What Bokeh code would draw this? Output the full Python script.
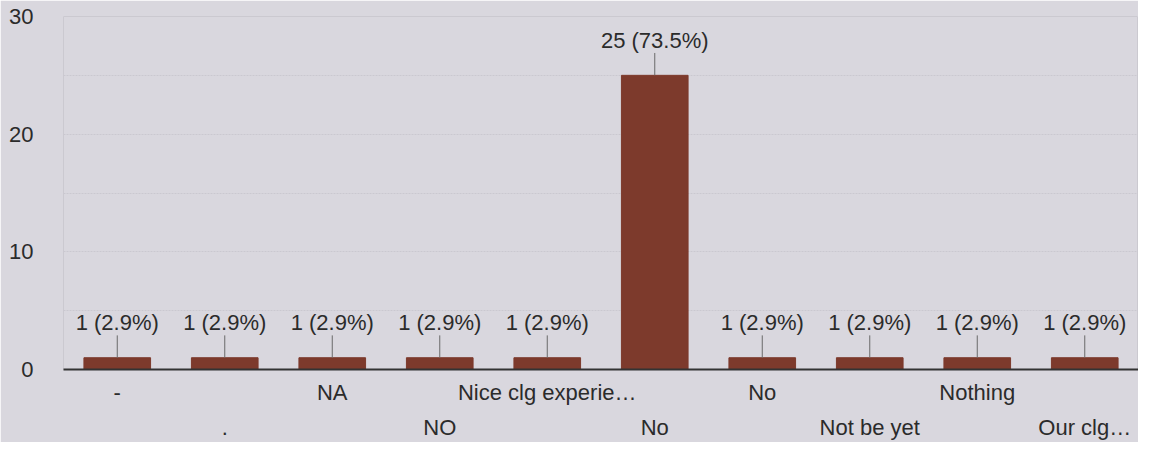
from bokeh.plotting import figure
from bokeh.models import FixedTicker, LinearAxis, ColumnDataSource, Range1d, SingleIntervalTicker
from bokeh.core.properties import value
from bokeh.embed import file_html
from bokeh.resources import INLINE

categories = ["-", ".", "NA", "NO", "Nice clg experie\u2026", "No", "No", "Not be yet", "Nothing", "Our clg\u2026"]
values = [1, 1, 1, 1, 1, 25, 1, 1, 1, 1]
y_ticks = [0, 10, 20, 30]

total = sum(values)
xs = list(range(len(categories)))
labels = [f"{v} ({v / total * 100:.1f}%)" for v in values]
lead = 1.9
src = ColumnDataSource(dict(x=xs, top=values, top2=[v + lead for v in values], lab=labels))

BG = "#d9d7de"
FONT = "Liberation Sans"
TXT = "#2b2b2b"
FS = "22px"

p = figure(width=1138, height=442, output_backend="svg", toolbar_location=None,
           x_range=Range1d(-0.5, len(categories) - 0.5), y_range=Range1d(0, 30),
           background_fill_color=BG, border_fill_color=BG,
           min_border_left=63, min_border_right=0, min_border_top=16, min_border_bottom=0)

p.vbar(x="x", top="top", bottom=0, width=0.62, source=src,
       fill_color="#7d3a2c", line_color="#7d3a2c")
p.segment(x0="x", y0="top", x1="x", y1="top2", source=src, line_color="#6a6a6a", line_width=1)
p.text(x="x", y="top2", text="lab", source=src, text_align="center", text_baseline="bottom",
       text_font=value(FONT), text_font_size=FS, text_color=TXT, y_offset=0)

# y axis
p.yaxis.ticker = FixedTicker(ticks=y_ticks)
p.yaxis.axis_line_color = None
p.yaxis.major_tick_line_color = None
p.yaxis.minor_tick_line_color = None
p.yaxis.major_tick_out = 0
p.yaxis.minor_tick_out = 0
p.yaxis.major_label_standoff = 30
p.yaxis.major_label_text_font = FONT
p.yaxis.major_label_text_font_size = FS
p.yaxis.major_label_text_color = TXT

p.ygrid.ticker = SingleIntervalTicker(interval=5)
p.ygrid.grid_line_color = "#cac8d0"
p.ygrid.grid_line_dash = "2 1"
p.xgrid.grid_line_color = None
p.outline_line_color = "#cbc9d0"

# x axes: two rows
p.xaxis.visible = False
ax1 = LinearAxis(ticker=FixedTicker(ticks=xs[0::2]),
                 major_label_overrides={i: categories[i] for i in xs[0::2]})
ax2 = LinearAxis(ticker=FixedTicker(ticks=xs[1::2]),
                 major_label_overrides={i: categories[i] for i in xs[1::2]})
for ax in (ax1, ax2):
    ax.major_tick_line_color = None
    ax.minor_tick_line_color = None
    ax.major_tick_out = 0
    ax.major_tick_in = 0
    ax.minor_tick_out = 0
    ax.major_label_text_font = FONT
    ax.major_label_text_font_size = FS
    ax.major_label_text_color = TXT
ax1.major_label_standoff = 10
ax2.major_label_standoff = 7
ax1.axis_line_color = "#333333"
ax1.axis_line_width = 2
ax2.axis_line_color = None
p.add_layout(ax1, "below")
p.add_layout(ax2, "below")

open("out.html", "w").write(file_html(p, INLINE))
